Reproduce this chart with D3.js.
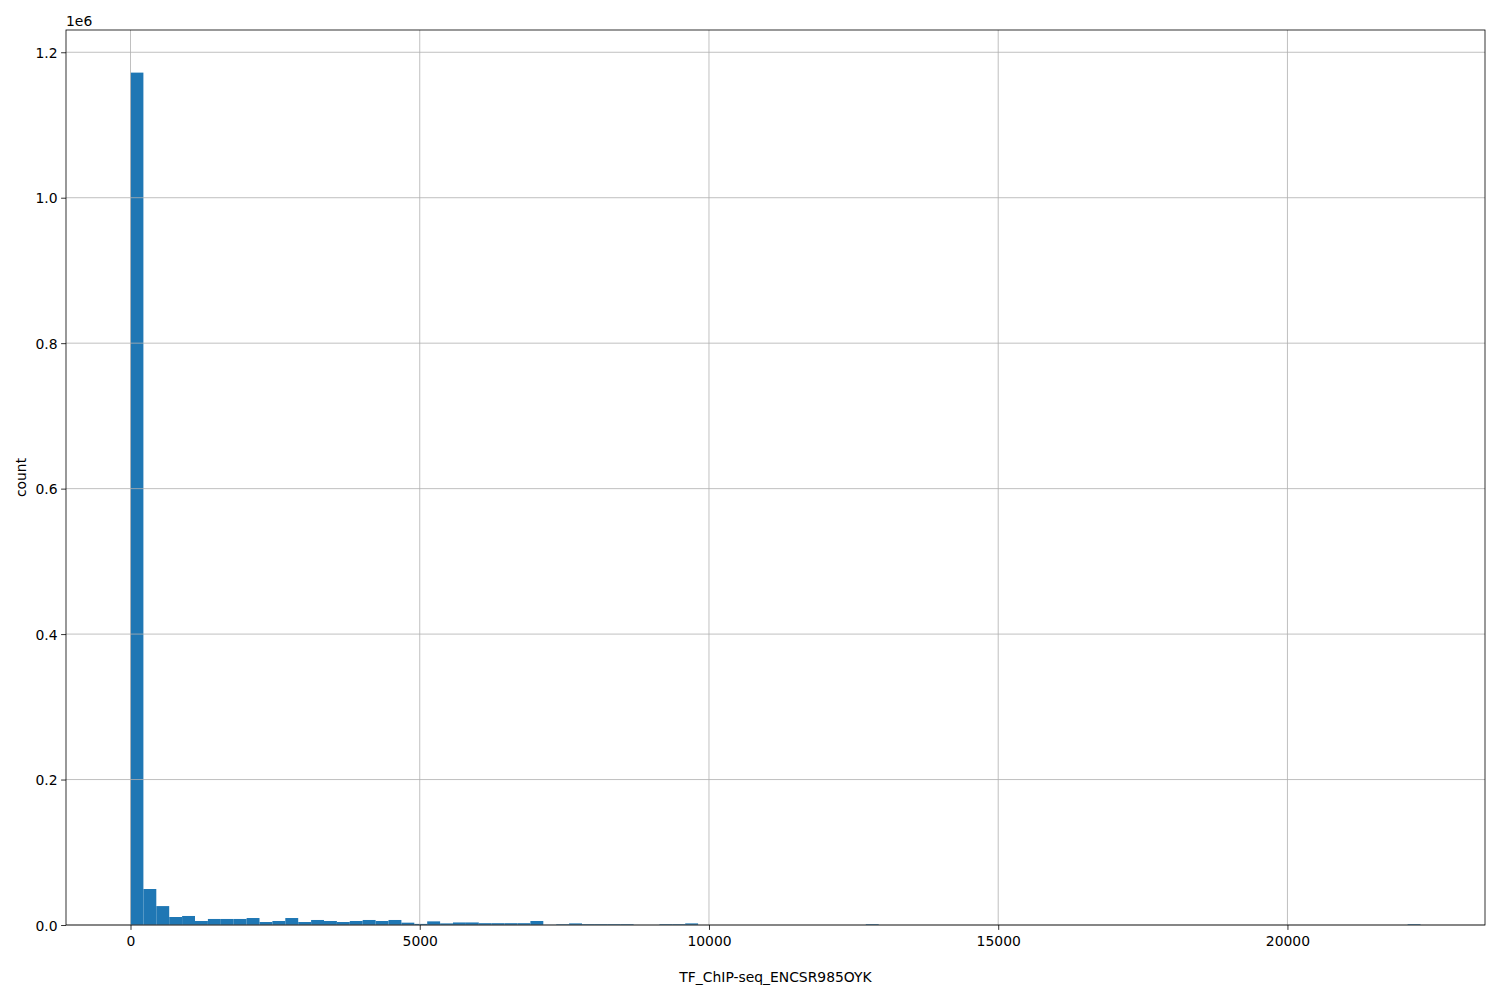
<!DOCTYPE html>
<html>
<head>
<meta charset="utf-8">
<script src="https://cdn.jsdelivr.net/npm/d3@7"></script>
<style>
  html, body { margin: 0; padding: 0; background: #ffffff; }
  svg { display: block; }
  text { font-family: "DejaVu Sans", sans-serif; fill: #000; }
</style>
</head>
<body>
<svg id="chart" width="1500" height="1000"></svg>
<script>
// ---- data ----
const binStart = 0;
const binEnd = 22300;
const binCount = 100;
const counts = [
  1172000, 49500, 26000, 11000, 12400, 5500, 8300, 8300, 8300, 9600,
  4100, 5500, 9600, 4100, 6900, 5500, 4100, 5500, 6900, 5500,
  6900, 3200, 1500, 5000, 2200, 3500, 3500, 2500, 2500, 2500,
  2500, 5500, 200, 1000, 2200, 1100, 1100, 1100, 1100, 100,
  100, 1100, 1100, 2200, 0, 0, 0, 0, 0, 0,
  0, 0, 0, 0, 0, 0, 0, 1100, 0, 0,
  0, 0, 0, 0, 0, 0, 0, 0, 0, 0,
  0, 0, 0, 0, 0, 0, 0, 0, 0, 0,
  0, 0, 0, 0, 0, 0, 0, 0, 0, 0,
  0, 0, 0, 0, 0, 0, 0, 0, 0, 1100
];
const xTicks = [0, 5000, 10000, 15000, 20000];
const yTicks = [0, 0.2e6, 0.4e6, 0.6e6, 0.8e6, 1.0e6, 1.2e6];
const xLabel = "TF_ChIP-seq_ENCSR985OYK";
const yLabel = "count";
const yOffsetLabel = "1e6";

// ---- layout ----
const pLeft = 66, pRight = 1485, pTop = 30, pBottom = 925;
const svg = d3.select("#chart");

const binWidth = (binEnd - binStart) / binCount;
const bins = counts.map((c, i) => ({ x0: binStart + i * binWidth, x1: binStart + (i + 1) * binWidth, c }));

const span = binEnd - binStart;
const x = d3.scaleLinear()
  .domain([binStart - 0.05 * span, binEnd + 0.05 * span])
  .range([pLeft, pRight]);
const y = d3.scaleLinear()
  .domain([0, d3.max(counts) * 1.05])
  .range([pBottom, pTop]);

// bars
svg.append("g")
  .selectAll("rect")
  .data(bins)
  .join("rect")
  .attr("x", d => x(d.x0))
  .attr("width", d => x(d.x1) - x(d.x0))
  .attr("y", d => y(d.c))
  .attr("height", d => pBottom - y(d.c))
  .attr("fill", "#1f77b4");

// grid
const grid = svg.append("g").attr("stroke", "#b0b0b0").attr("stroke-width", 0.8);
grid.selectAll("line.gx").data(xTicks).join("line").attr("class", "gx")
  .attr("x1", d => x(d)).attr("x2", d => x(d))
  .attr("y1", pTop).attr("y2", pBottom);
grid.selectAll("line.gy").data(yTicks).join("line").attr("class", "gy")
  .attr("x1", pLeft).attr("x2", pRight)
  .attr("y1", d => y(d)).attr("y2", d => y(d));

// axes
const xAxis = d3.axisBottom(x).tickValues(xTicks).tickSize(4.9).tickPadding(3.5).tickFormat(d3.format("d"));
const yAxis = d3.axisLeft(y).tickValues(yTicks).tickSize(4.9).tickPadding(3.5).tickFormat(d => (d / 1e6).toFixed(1));

const gx = svg.append("g").attr("transform", `translate(0,${pBottom})`).call(xAxis);
const gy = svg.append("g").attr("transform", `translate(${pLeft},0)`).call(yAxis);
[gx, gy].forEach(g => {
  g.select(".domain").remove();
  g.selectAll(".tick line").attr("stroke", "#000").attr("stroke-width", 0.8);
  g.selectAll(".tick text").attr("font-size", "13.9px").attr("font-family", "DejaVu Sans, sans-serif").attr("fill", "#000");
});
gx.selectAll(".tick text").attr("dy", null).attr("y", 20.5);
gy.selectAll(".tick text").attr("dy", "0.36em");

// spines
svg.append("rect")
  .attr("x", pLeft).attr("y", pTop)
  .attr("width", pRight - pLeft).attr("height", pBottom - pTop)
  .attr("fill", "none").attr("stroke", "#000").attr("stroke-width", 0.8);

// labels
svg.append("text")
  .attr("x", (pLeft + pRight) / 2).attr("y", 982)
  .attr("text-anchor", "middle").attr("font-size", "13.9px")
  .text(xLabel);
svg.append("text")
  .attr("transform", `translate(26,${(pTop + pBottom) / 2}) rotate(-90)`)
  .attr("text-anchor", "middle").attr("font-size", "13.9px")
  .text(yLabel);
svg.append("text")
  .attr("x", pLeft).attr("y", 26)
  .attr("font-size", "13.9px")
  .text(yOffsetLabel);
</script>
</body>
</html>
